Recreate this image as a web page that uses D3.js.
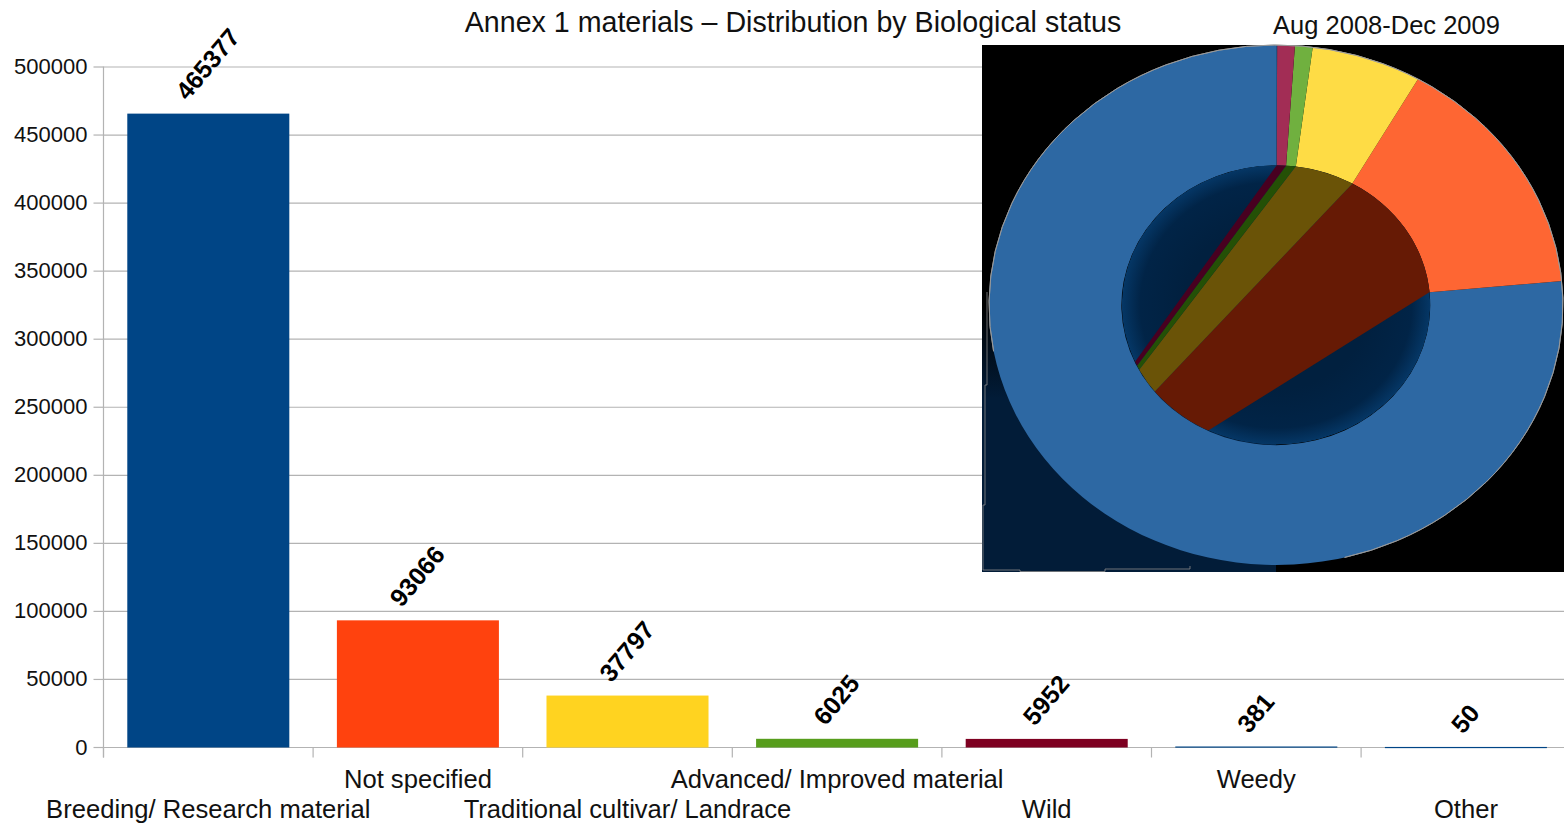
<!DOCTYPE html>
<html>
<head>
<meta charset="utf-8">
<title>Annex 1 materials</title>
<script src="https://cdn.jsdelivr.net/npm/d3@7"></script>
<style>
  body { margin: 0; background: #fff; }
  text { font-family: "Liberation Sans", Arial, sans-serif; fill: #111; }
</style>
</head>
<body>
<svg id="chart" width="1564" height="823"></svg>
<script>
var categories = ["Breeding/ Research material", "Not specified", "Traditional cultivar/ Landrace",
    "Advanced/ Improved material", "Wild", "Weedy", "Other"];
var counts = [465377, 93066, 37797, 6025, 5952, 381, 50];
var yTicks = [0, 50000, 100000, 150000, 200000, 250000, 300000, 350000, 400000, 450000, 500000];
var barColors = ["#004586", "#ff420e", "#ffd320", "#579d1c", "#7e0021", "#004586", "#004586"];
var pieColors = ["#2d68a3", "#fe6633", "#fedc45", "#70b03f", "#a22d55", "#2d68a3", "#2d68a3"];
var holeColors = [null, "#661a05", "#6a5307", "#245006", "#480020", null, null];

var svg = d3.select("#chart");

var y = d3.scaleLinear().domain([0, 500000]).range([747, 66.5]);
var x = d3.scaleBand().domain(categories).range([103.5, 1570.7])
    .paddingInner(0.227).paddingOuter(0.1135);

// gridlines + y axis
var yAxis = svg.append("g")
    .attr("transform", "translate(103.5,0)")
    .call(d3.axisLeft(y).tickValues(yTicks).tickSize(10).tickPadding(6).tickFormat(d3.format("d")));
yAxis.select(".domain").remove();
yAxis.selectAll("line").attr("stroke", "#b3b3b3").attr("stroke-width", 1.2);
yAxis.selectAll("text").style("font-size", "22px").attr("fill", "#111");

svg.append("g").selectAll("line")
    .data(yTicks)
    .enter().append("line")
    .attr("x1", 103.5).attr("x2", 1564)
    .attr("y1", function (d) { return y(d) + 0.5; })
    .attr("y2", function (d) { return y(d) + 0.5; })
    .attr("stroke", "#b3b3b3").attr("stroke-width", 1.2);

// x axis ticks sit on the band edges
var xAxis = svg.append("g")
    .attr("transform", "translate(" + (-x.step() / 2) + ",747.5)")
    .call(d3.axisBottom(x).tickSize(10).tickFormat(""));
xAxis.select(".domain").remove();
xAxis.selectAll("line").attr("stroke", "#b3b3b3").attr("stroke-width", 1.2);

svg.append("line")
    .attr("x1", 103.5).attr("x2", 103.5)
    .attr("y1", y(500000)).attr("y2", 757.5)
    .attr("stroke", "#b3b3b3").attr("stroke-width", 1.2);

// bars
svg.append("g").selectAll("rect")
    .data(categories)
    .enter().append("rect")
    .attr("x", function (d) { return x(d); })
    .attr("y", function (d, i) { return y(counts[i]); })
    .attr("width", x.bandwidth())
    .attr("height", function (d, i) { return Math.max(y(0) - y(counts[i]) + 0.5, 1.2); })
    .attr("fill", function (d, i) { return barColors[i]; });

// category labels, staggered on two rows
svg.append("g").selectAll("text")
    .data(categories)
    .enter().append("text")
    .attr("x", function (d) { return x(d) + x.bandwidth() / 2; })
    .attr("y", function (d, i) { return i % 2 ? 788 : 818; })
    .attr("text-anchor", "middle")
    .style("font-size", "25.6px")
    .text(function (d) { return d; });

// pasted pie picture
var pic = {left: 982, top: 45, right: 1564, bottom: 572, cx: 1276, cy: 305, rx: 287, ry: 260, hole: 0.5375};
var apex = [985, 570];

var defs = svg.append("defs");
var fade = defs.append("linearGradient").attr("id", "cornerFade")
    .attr("x1", 0).attr("x2", 0).attr("y1", 0).attr("y2", 1);
fade.append("stop").attr("offset", "0").attr("stop-color", "#000");
fade.append("stop").attr("offset", "0.35").attr("stop-color", "#021c38");
fade.append("stop").attr("offset", "1").attr("stop-color", "#021c38");

var well = defs.append("radialGradient").attr("id", "holeFill")
    .attr("cx", 0.5).attr("cy", 0.5).attr("r", 0.5);
well.append("stop").attr("offset", "0.6").attr("stop-color", "#01203f");
well.append("stop").attr("offset", "0.88").attr("stop-color", "#012447");
well.append("stop").attr("offset", "1").attr("stop-color", "#053766");

defs.append("clipPath").attr("id", "holeClip").append("ellipse")
    .attr("cx", pic.cx).attr("cy", pic.cy)
    .attr("rx", pic.rx * pic.hole).attr("ry", pic.ry * pic.hole);

svg.append("rect")
    .attr("x", pic.left).attr("y", pic.top)
    .attr("width", pic.right - pic.left).attr("height", pic.bottom - pic.top)
    .attr("fill", "#000");
svg.append("rect")
    .attr("x", pic.left).attr("y", pic.cy)
    .attr("width", pic.cx - pic.left).attr("height", pic.bottom - pic.cy)
    .attr("fill", "url(#cornerFade)");
svg.append("path")
    .attr("d", "M987,292V385H985V505H983V570H1020V571.5H1105V569H1190V566")
    .attr("fill", "none").attr("stroke", "#8a8a8a").attr("stroke-width", 0.8);

var pie = d3.pie().sort(function (a, b) { return d3.ascending(counts[a], counts[b]); })
    .value(function (i) { return counts[i]; });
var slices = pie(d3.range(counts.length));
var arc = d3.arc().innerRadius(pic.hole).outerRadius(1);

var ring = svg.append("g")
    .attr("transform", "translate(" + pic.cx + "," + pic.cy + ") scale(" + pic.rx + "," + pic.ry + ")");

ring.selectAll("path.slice")
    .data(slices)
    .enter().append("path")
    .attr("class", "slice")
    .attr("d", arc)
    .attr("fill", function (d) { return pieColors[d.data]; });

// thin light rim on the outer edge
ring.append("path")
    .attr("d", d3.arc().innerRadius(1).outerRadius(1)({startAngle: -1.75, endAngle: 2.9}))
    .attr("fill", "none").attr("stroke", "#9a9a9a").attr("stroke-width", 0.9)
    .attr("vector-effect", "non-scaling-stroke");

// hole: far side of the ring seen through it, wedges run to the picture corner
function holePoint(angle) {
    var px = pic.cx + pic.rx * pic.hole * Math.sin(angle),
        py = pic.cy - pic.ry * pic.hole * Math.cos(angle);
    return [apex[0] + (px - apex[0]) * 1.6, apex[1] + (py - apex[1]) * 1.6];
}

var hole = svg.append("g").attr("clip-path", "url(#holeClip)");
hole.append("ellipse")
    .attr("cx", pic.cx).attr("cy", pic.cy)
    .attr("rx", pic.rx * pic.hole).attr("ry", pic.ry * pic.hole)
    .attr("fill", "url(#holeFill)");
hole.selectAll("polygon")
    .data(slices.filter(function (d) { return holeColors[d.data]; }))
    .enter().append("polygon")
    .attr("points", function (d) {
        return [apex, holePoint(d.startAngle), holePoint(d.endAngle)].join(" ");
    })
    .attr("fill", function (d) { return holeColors[d.data]; });

// value labels
svg.append("g").selectAll("text")
    .data(categories)
    .enter().append("text")
    .attr("text-anchor", "middle")
    .style("font-size", "25px")
    .style("font-weight", "bold")
    .style("fill", "#000")
    .text(function (d, i) { return counts[i]; })
    .attr("transform", function (d, i) {
        var len = this.getComputedTextLength(),
            rise = 13 + Math.sin(50 * Math.PI / 180) * len / 2;
        return "translate(" + (x(d) + x.bandwidth() / 2 + 6) + "," + (y(counts[i]) - rise + 1) + ") rotate(-50)";
    });

// titles
svg.append("text")
    .attr("x", 793).attr("y", 32)
    .attr("text-anchor", "middle")
    .style("font-size", "28.6px")
    .text("Annex 1 materials – Distribution by Biological status");
svg.append("text")
    .attr("x", 1386.5).attr("y", 34)
    .attr("text-anchor", "middle")
    .style("font-size", "25.5px")
    .text("Aug 2008-Dec 2009");
</script>
</body>
</html>
